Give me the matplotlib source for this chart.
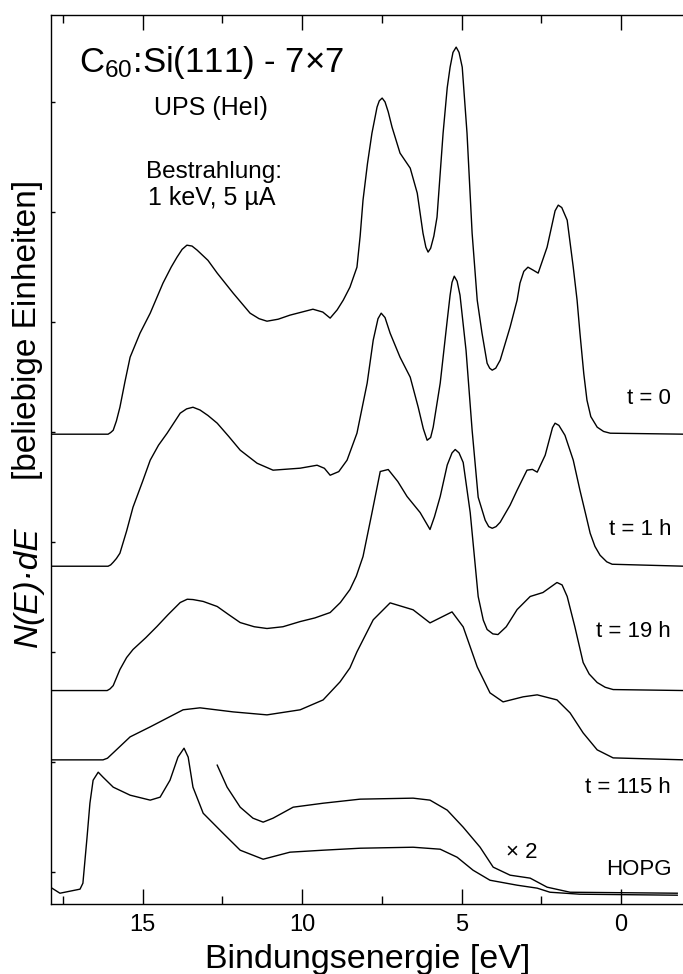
import matplotlib
matplotlib.use("Agg")
import matplotlib.pyplot as plt
from matplotlib.ticker import MultipleLocator

plt.rcParams["font.family"] = ["Liberation Sans", "DejaVu Sans"]
plt.rcParams["mathtext.fontset"] = "custom"
plt.rcParams["mathtext.rm"] = "Liberation Sans"
plt.rcParams["mathtext.it"] = "Liberation Sans:italic"

# binding energy [eV] and intensity above baseline [arb. units]
e_t0 = [18.0, 16.08, 16.0, 15.92, 15.82, 15.71, 15.55, 15.39, 15.08, 14.76, 14.36,
        14.1, 13.92, 13.76, 13.61, 13.45, 13.29, 12.95, 12.66, 12.16, 11.63, 11.35,
        11.10, 10.75, 10.38, 9.66, 9.35, 9.12, 8.9, 8.71, 8.50, 8.28, 8.18, 8.09,
        7.95, 7.81, 7.65, 7.58, 7.49, 7.40, 7.30, 7.18, 6.93, 6.61, 6.39, 6.21, 6.12,
        6.05, 5.97, 5.87, 5.77, 5.58, 5.45, 5.36, 5.27, 5.17, 5.08, 4.98, 4.83, 4.67,
        4.51, 4.36, 4.20, 4.12, 4.04, 3.93, 3.79, 3.48, 3.26, 3.17, 3.05, 2.92, 2.75,
        2.60, 2.32, 2.07, 1.97, 1.86, 1.69, 1.50, 1.38, 1.29, 1.17, 1.07, 0.95, 0.75,
        0.55, 0.34, -2.0]
i_t0 = [0, 0, 0.15, 0.36, 1.2, 2.45, 4.8, 7.0, 9.18, 11.0, 13.73,
        15.2, 16.09, 16.8, 17.18, 17.1, 16.73, 15.8, 14.64, 12.82, 11.0, 10.5,
        10.27, 10.45, 10.82, 11.36, 11.1, 10.55, 11.3, 12.18, 13.36, 15.18, 18.0, 21.27,
        24.6, 27.36, 29.73, 30.3, 30.55, 30.2, 29.3, 27.91, 25.55, 24.18, 21.91, 18.27, 17.0,
        16.55, 16.9, 18.0, 19.73, 27.36, 31.5, 33.36, 34.7, 35.18, 34.7, 33.36, 27.36, 18.27,
        12.18, 9.18, 6.45, 6.0, 5.82, 6.0, 6.73, 9.73, 12.18, 13.73, 14.8, 15.18, 14.9,
        14.64, 17.0, 20.3, 20.82, 20.6, 19.45, 15.18, 12.18, 9.18, 5.5, 3.09, 1.6, 0.64,
        0.25, 0.09, 0]

e_t1 = [18.0, 16.08, 16.0, 15.92, 15.82, 15.71, 15.5, 15.30, 15.0, 14.76, 14.5,
        14.23, 13.82, 13.62, 13.42, 13.2, 12.95, 12.66, 12.3, 11.94, 11.41, 10.91,
        10.06, 9.53, 9.3, 9.12, 8.85, 8.59, 8.28, 7.96, 7.77, 7.62, 7.52, 7.40, 7.24,
        6.93, 6.61, 6.36, 6.2, 6.08, 5.97, 5.89, 5.67, 5.45, 5.36, 5.30, 5.23, 5.14,
        5.05, 4.86, 4.67, 4.48, 4.26, 4.15, 4.04, 3.92, 3.79, 3.48, 3.26, 2.95, 2.78,
        2.63, 2.38, 2.15, 2.07, 1.95, 1.76, 1.50, 1.29, 1.10, 0.97, 0.82, 0.66, 0.45,
        0.28, -2.0]
i_t1 = [0, 0, 0.12, 0.36, 0.7, 1.18, 3.2, 5.36, 7.7, 9.64, 11.0,
        12.09, 13.91, 14.3, 14.45, 14.2, 13.7, 13.0, 11.8, 10.55, 9.36, 8.73,
        8.91, 9.18, 8.9, 8.27, 8.6, 9.64, 12.09, 16.64, 20.55, 22.5, 23.0, 22.6, 21.18,
        19.0, 17.18, 14.45, 12.5, 11.45, 11.7, 12.64, 16.64, 22.36, 24.64, 25.8, 26.36, 25.9,
        24.64, 19.6, 12.36, 6.27, 4.18, 3.6, 3.45, 3.6, 4.0, 5.55, 6.91, 8.73, 8.8,
        8.55, 10.09, 12.6, 13.0, 12.8, 11.9, 9.64, 6.9, 4.6, 3.0, 1.8, 1.0, 0.4,
        0.18, 0]

e_t19 = [18.0, 16.11, 16.02, 15.92, 15.71, 15.50, 15.30, 14.9, 14.55, 14.2, 13.82,
         13.6, 13.42, 13.1, 12.66, 12.3, 11.94, 11.5, 11.10, 10.6, 10.06, 9.6, 9.12,
         8.8, 8.50, 8.30, 8.09, 7.82, 7.55, 7.30, 7.0, 6.71, 6.30, 5.99, 5.85, 5.67,
         5.45, 5.30, 5.20, 5.08, 4.95, 4.73, 4.48, 4.32, 4.20, 4.02, 3.86, 3.6, 3.26,
         2.85, 2.45, 2.01, 1.85, 1.69, 1.45, 1.19, 1.0, 0.75, 0.5, 0.25, -2.0]
i_t19 = [0, 0, 0.15, 0.45, 1.91, 3.0, 3.73, 4.8, 5.82, 6.9, 8.0,
         8.3, 8.27, 8.1, 7.64, 6.9, 6.18, 5.8, 5.64, 5.8, 6.27, 6.6, 7.09,
         8.0, 9.18, 10.4, 12.18, 16.0, 19.91, 20.09, 19.0, 17.64, 16.18, 14.64, 15.8, 17.64,
         20.5, 21.6, 21.91, 21.6, 20.73, 16.18, 8.55, 6.4, 5.55, 5.15, 5.09, 5.8, 7.36,
         8.55, 8.91, 9.82, 9.6, 8.55, 5.8, 2.55, 1.5, 0.73, 0.3, 0.09, 0]

e_t115 = [18.0, 16.24, 16.1, 15.92, 15.39, 14.76, 13.73, 13.20, 12.16, 11.10, 10.06,
          9.34, 8.81, 8.50, 8.28, 7.77, 7.24, 6.52, 5.99, 5.30, 4.95, 4.51, 4.11,
          3.70, 3.07, 2.63, 2.01, 1.60, 1.19, 0.75, 0.25, -2.0]
i_t115 = [0, 0, 0.15, 0.64, 2.09, 3.0, 4.55, 4.73, 4.36, 4.09, 4.55,
          5.45, 7.09, 8.36, 9.82, 12.73, 14.27, 13.64, 12.45, 13.45, 12.09, 8.45, 6.09,
          5.27, 5.73, 5.91, 5.45, 4.27, 2.45, 0.91, 0.18, 0]

e_hopg = [17.84, 17.59, 16.96, 16.87, 16.74, 16.65, 16.55, 16.39, 16.24, 15.92, 15.39,
          14.76, 14.45, 14.14, 13.89, 13.70, 13.57, 13.42, 13.10, 12.48, 11.94, 11.22,
          10.38, 9.34, 8.18, 6.52, 5.67, 5.14, 4.64, 4.11, 3.26, 2.63, 2.23, 1.29, -1.76]
i_hopg = [0.64, 0.18, 0.55, 1.09, 5.27, 8.36, 10.45, 11.18, 10.73, 9.82, 9.09,
          8.64, 8.91, 10.45, 12.55, 13.36, 12.55, 9.82, 7.45, 5.64, 4.09, 3.27,
          3.91, 4.09, 4.27, 4.36, 4.18, 3.45, 2.27, 1.36, 0.91, 0.64, 0.27, 0.09, 0]

e_hopg_x2 = [12.66, 12.35, 11.94, 11.54, 11.22, 10.91, 10.28, 9.34, 8.18, 6.52, 5.99,
             5.45, 4.95, 4.42, 4.01, 3.48, 2.85, 2.32, 1.60, -1.76]
i_hopg_x2 = [11.82, 9.82, 8.0, 7.0, 6.64, 7.0, 8.0, 8.36, 8.73, 8.82, 8.64,
             7.73, 6.18, 4.36, 2.55, 1.82, 1.55, 0.73, 0.27, 0.18]

spectra = [(e_t0, i_t0), (e_t1, i_t1), (e_t19, i_t19), (e_t115, i_t115)]
offsets = [39.8, 27.8, 16.5, 10.2]
labels = ["t = 0", "t = 1 h", "t = 19 h", "t = 115 h"]
hopg_offset = -2.1

fig = plt.figure(figsize=(6.83, 9.74), dpi=100)
ax = fig.add_axes([51 / 683, 70 / 974, 632 / 683, 889 / 974])

for (e, i), off in zip(spectra, offsets):
    ax.plot(e, [v + off for v in i], color="black", lw=1.0)
ax.plot(e_hopg, [v + hopg_offset for v in i_hopg], color="black", lw=1.0)
ax.plot(e_hopg_x2, [v + hopg_offset for v in i_hopg_x2], color="black", lw=1.0)

ax.set_xlim(17.87, -1.94)
ax.set_ylim(-2.9, 77.9)

ax.xaxis.set_major_locator(MultipleLocator(5))
ax.xaxis.set_minor_locator(MultipleLocator(2.5))
ax.yaxis.set_major_locator(MultipleLocator(10))
ax.tick_params(axis="x", which="both", direction="in", top=True, labelsize=17, pad=7)
ax.tick_params(axis="x", which="major", length=11, width=1.0)
ax.tick_params(axis="x", which="minor", length=6, width=1.0)
ax.tick_params(axis="y", which="major", direction="in", length=3, width=1.0,
               labelleft=False)
ax.spines["right"].set_visible(False)
for s in ["left", "top", "bottom"]:
    ax.spines[s].set_linewidth(1.0)

# annotations
ax.text(12.85, 72.7, "C$_{60}$:Si(111) - 7×7", fontsize=25, ha="center", va="baseline")
ax.text(12.85, 68.8, "UPS (HeI)", fontsize=18, ha="center", va="baseline")
ax.text(12.75, 63.1, "Bestrahlung:", fontsize=17.5, ha="center", va="baseline")
ax.text(12.82, 60.6, "1 keV, 5 µA", fontsize=18, ha="center", va="baseline")

label_y = [42.5, 30.6, 21.4, 7.2]
for lab, y in zip(labels, label_y):
    ax.text(-1.57, y, lab, fontsize=16, ha="right", va="baseline")
ax.text(3.1, 1.3, "× 2", fontsize=16, ha="center", va="baseline")
ax.text(-1.57, -0.26, "HOPG", fontsize=16, ha="right", va="baseline")

fig.text(368 / 683, 6 / 974, "Bindungsenergie [eV]", fontsize=24.5, ha="center",
         va="baseline")
fig.text(28 / 683, 1 - 587 / 974, "N(E)·dE", fontsize=24, style="italic",
         rotation=90, ha="center", va="center")
fig.text(28 / 683, 1 - 330 / 974, "[beliebige Einheiten]", fontsize=24,
         rotation=90, ha="center", va="center")

fig.savefig("out.png", dpi=100)
